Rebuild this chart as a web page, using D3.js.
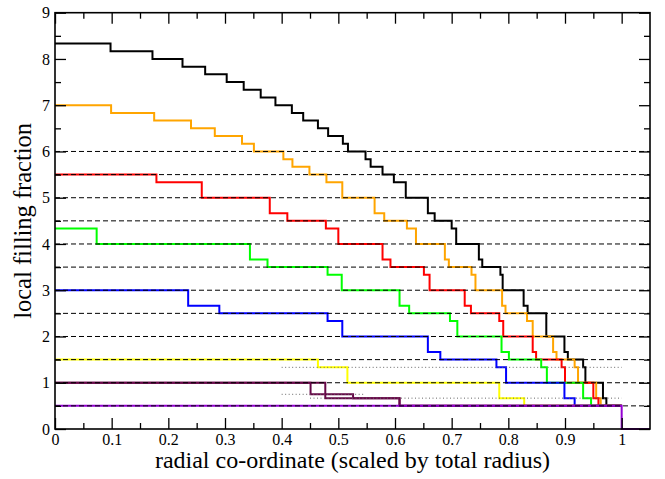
<!DOCTYPE html>
<html>
<head>
<meta charset="utf-8">
<script src="https://cdn.jsdelivr.net/npm/d3@7"></script>
<style>
  body { margin: 0; background: #fff; }
  svg text { font-family: "Liberation Serif", "DejaVu Serif", serif; }
</style>
</head>
<body>
<script>
// step data: [x where the level starts, level]
const blackSteps = [[0, 8.333], [0.098, 8.167], [0.172, 8.0], [0.225, 7.833], [0.265, 7.667],
  [0.303, 7.5], [0.333, 7.333], [0.363, 7.167], [0.389, 7.0], [0.418, 6.833], [0.438, 6.667],
  [0.464, 6.5], [0.482, 6.333], [0.508, 6.167], [0.517, 6.0], [0.548, 5.833], [0.557, 5.667],
  [0.578, 5.5], [0.598, 5.333], [0.619, 5.0], [0.658, 4.667], [0.670, 4.5], [0.700, 4.333],
  [0.708, 4.0], [0.748, 3.667], [0.754, 3.5], [0.786, 3.333], [0.790, 3.0], [0.827, 2.667],
  [0.834, 2.5], [0.867, 2.0], [0.899, 1.667], [0.905, 1.5], [0.932, 1.333], [0.936, 1.0],
  [0.967, 0.667], [0.973, 0.5], [1.0, 0.5]];
const orangeSteps = [[0, 7.0], [0.099, 6.833], [0.175, 6.667], [0.240, 6.5], [0.282, 6.333],
  [0.330, 6.167], [0.351, 6.0], [0.403, 5.833], [0.419, 5.667], [0.449, 5.5], [0.479, 5.333],
  [0.507, 5.0], [0.564, 4.667], [0.581, 4.5], [0.621, 4.333], [0.637, 4.0], [0.688, 3.667],
  [0.695, 3.5], [0.735, 3.333], [0.742, 3.0], [0.789, 2.667], [0.795, 2.5], [0.833, 2.333],
  [0.843, 2.0], [0.879, 1.667], [0.885, 1.5], [0.917, 1.333], [0.923, 1.0], [0.955, 0.667],
  [0.963, 0.5], [1.0, 0.5]];
const redSteps = [[0, 5.5], [0.179, 5.333], [0.259, 5.0], [0.379, 4.667], [0.410, 4.5],
  [0.478, 4.333], [0.500, 4.0], [0.578, 3.667], [0.592, 3.5], [0.651, 3.333], [0.661, 3.0],
  [0.723, 2.667], [0.734, 2.5], [0.784, 2.333], [0.791, 2.0], [0.843, 1.667], [0.849, 1.5],
  [0.894, 1.333], [0.900, 1.0], [0.950, 0.667], [0.959, 0.5], [1.0, 0.5]];
const greenSteps = [[0, 4.333], [0.0735, 4.0], [0.344, 3.667], [0.375, 3.5], [0.481, 3.333],
  [0.506, 3.0], [0.608, 2.667], [0.625, 2.5], [0.697, 2.333], [0.710, 2.0], [0.788, 1.667],
  [0.801, 1.5], [0.858, 1.333], [0.868, 1.0], [0.932, 0.667], [0.946, 0.5], [1.0, 0.5]];
const blueSteps = [[0, 3.0], [0.235, 2.667], [0.290, 2.5], [0.481, 2.333], [0.507, 2.0],
  [0.658, 1.667], [0.680, 1.5], [0.779, 1.333], [0.796, 1.0], [0.899, 0.667], [0.917, 0.5],
  [1.0, 0.5]];
const yellowSteps = [[0, 1.5], [0.464, 1.333], [0.516, 1.0], [0.784, 0.667], [0.828, 0.5], [1.0, 0.5]];
const maroonSteps2 = [[0, 1.0], [0.451, 0.75], [0.526, 0.667], [0.608, 0.5], [1.0, 0.5]];
const maroonSteps = [[0, 1.0], [0.477, 0.667], [0.608, 0.5], [1.0, 0.5]];
const violetSteps = [[0, 0.5], [1.0, 0], [1.05, 0]];

const seriesList = [
  { steps: blackSteps, color: "#000000" },
  { steps: orangeSteps, color: "#ffa500" },
  { steps: redSteps, color: "#ff0000" },
  { steps: greenSteps, color: "#00ff00" },
  { steps: blueSteps, color: "#0000ff" },
  { steps: yellowSteps, color: "#ffff00" },
  { steps: maroonSteps2, color: "#670748" },
  { steps: maroonSteps, color: "#670748" },
  { steps: violetSteps, color: "#9400d3" }
];

const dashedLevels = [0.5, 1, 1.5, 2, 2.5, 3, 3.5, 4, 4.5, 5, 5.5, 6];
// dotted reference lines: [x from, x to, level]
const dottedRefs = [[0.4, 1.0, 1.333], [0.4, 0.547, 0.75], [0.45, 1.0, 0.667]];

const xMajor = [0, 0.1, 0.2, 0.3, 0.4, 0.5, 0.6, 0.7, 0.8, 0.9, 1.0];
const xMinor = [0.05, 0.15, 0.25, 0.35, 0.45, 0.55, 0.65, 0.75, 0.85, 0.95];
const yMajor = [0, 1, 2, 3, 4, 5, 6, 7, 8, 9];
const yMinor = [0.5, 1.5, 2.5, 3.5, 4.5, 5.5, 6.5, 7.5, 8.5];

const w = 665;
const h = 479;
const plotL = 55, plotR = 650, plotT = 12.7, plotB = 429;

const svg = d3.select("body").append("svg").attr("width", w).attr("height", h);

const x = d3.scaleLinear().domain([0, 1.05]).range([plotL, plotR]);
const y = d3.scaleLinear().domain([0, 9]).range([plotB, plotT]);

const line = d3.line()
  .x(d => x(d[0]))
  .y(d => y(d[1]))
  .curve(d3.curveStepAfter);

svg.append("g")
  .selectAll("path")
  .data(seriesList)
  .enter()
  .append("path")
  .attr("d", d => line(d.steps))
  .attr("fill", "none")
  .attr("stroke", d => d.color)
  .attr("stroke-width", 2);

svg.append("g")
  .selectAll("line")
  .data(dashedLevels)
  .enter()
  .append("line")
  .attr("x1", x(0))
  .attr("x2", x(1.05))
  .attr("y1", d => y(d))
  .attr("y2", d => y(d))
  .attr("stroke", "#000")
  .attr("stroke-width", 1)
  .attr("stroke-dasharray", "5,3");

svg.append("g")
  .selectAll("line")
  .data(dottedRefs)
  .enter()
  .append("line")
  .attr("x1", d => x(d[0]))
  .attr("x2", d => x(d[1]))
  .attr("y1", d => y(d[2]))
  .attr("y2", d => y(d[2]))
  .attr("stroke", "#666")
  .attr("stroke-width", 1)
  .attr("stroke-dasharray", "1,2.5");

const fmt = d => d3.format("~g")(d);

const addAxis = (axis, tx, ty) => {
  const g = svg.append("g").attr("transform", `translate(${tx},${ty})`).call(axis);
  g.select(".domain").remove();
  g.selectAll(".tick line").attr("stroke", "#000").attr("stroke-width", 1.3);
  g.selectAll("text").attr("font-size", 16).attr("fill", "#000")
    .style("font-family", '"Liberation Serif", "DejaVu Serif", serif');
  return g;
};

addAxis(d3.axisBottom(x).tickValues(xMajor).tickSize(-11).tickPadding(5).tickFormat(fmt), 0, plotB);
addAxis(d3.axisBottom(x).tickValues(xMinor).tickSize(-6).tickFormat(""), 0, plotB);
addAxis(d3.axisTop(x).tickValues(xMajor).tickSize(-11).tickFormat(""), 0, plotT);
addAxis(d3.axisTop(x).tickValues(xMinor).tickSize(-6).tickFormat(""), 0, plotT);
addAxis(d3.axisLeft(y).tickValues(yMajor).tickSize(-11).tickPadding(5).tickFormat(fmt), plotL, 0);
addAxis(d3.axisLeft(y).tickValues(yMinor).tickSize(-6).tickFormat(""), plotL, 0);
addAxis(d3.axisRight(y).tickValues(yMajor).tickSize(-11).tickFormat(""), plotR, 0);
addAxis(d3.axisRight(y).tickValues(yMinor).tickSize(-6).tickFormat(""), plotR, 0);

svg.append("rect")
  .attr("x", plotL)
  .attr("y", plotT)
  .attr("width", plotR - plotL)
  .attr("height", plotB - plotT)
  .attr("fill", "none")
  .attr("stroke", "#000")
  .attr("stroke-width", 1.6);

svg.append("text")
  .attr("x", (plotL + plotR) / 2)
  .attr("y", 468)
  .attr("text-anchor", "middle")
  .attr("font-size", 24)
  .text("radial co-ordinate (scaled by total radius)");

svg.append("text")
  .attr("transform", `translate(31,${(plotT + plotB) / 2}) rotate(-90)`)
  .attr("text-anchor", "middle")
  .attr("font-size", 24.5)
  .text("local filling fraction");
</script>
</body>
</html>
